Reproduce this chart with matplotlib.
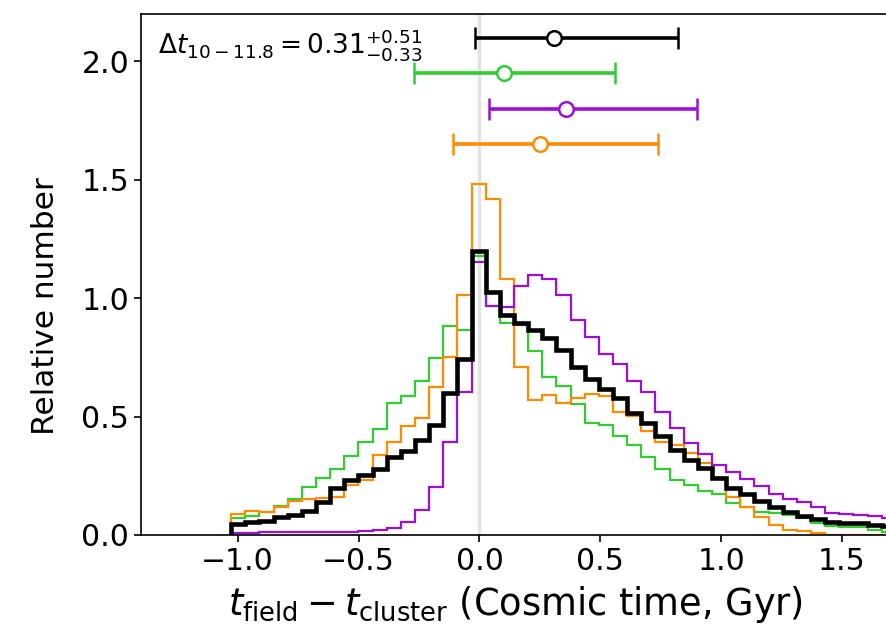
import numpy as np
import matplotlib
matplotlib.use("Agg")
import matplotlib.pyplot as plt

# ---- data ----
bin_start = -1.027
bin_width = 0.0585
n_bins = 47

green = [0.070, 0.080, 0.099, 0.123, 0.151, 0.204, 0.240, 0.278, 0.333, 0.391,
         0.446, 0.556, 0.587, 0.651, 0.747, 0.881, 0.866, 1.179, 0.968, 0.897,
         0.888, 0.775, 0.666, 0.630, 0.554, 0.472, 0.465, 0.420, 0.380, 0.328,
         0.278, 0.234, 0.211, 0.187, 0.173, 0.137, 0.117, 0.099, 0.092, 0.085,
         0.070, 0.052, 0.038, 0.032, 0.032, 0.021, 0.012]
orange = [0.087, 0.101, 0.097, 0.120, 0.144, 0.151, 0.158, 0.162, 0.211, 0.232,
          0.338, 0.391, 0.461, 0.496, 0.624, 0.751, 1.014, 1.483, 1.419, 1.081,
          0.710, 0.571, 0.592, 0.558, 0.577, 0.596, 0.586, 0.521, 0.503, 0.439,
          0.394, 0.382, 0.347, 0.303, 0.240, 0.162, 0.117, 0.075, 0.042, 0.021,
          0.018, 0.010, 0.0, 0.0, 0.0, 0.0, 0.0]
purple = [0.010, 0.010, 0.012, 0.012, 0.013, 0.013, 0.013, 0.012, 0.014, 0.018,
          0.021, 0.028, 0.054, 0.106, 0.202, 0.394, 0.604, 1.151, 0.965, 0.961,
          1.050, 1.097, 1.081, 1.012, 0.909, 0.835, 0.764, 0.723, 0.651, 0.602,
          0.521, 0.451, 0.387, 0.341, 0.296, 0.265, 0.235, 0.207, 0.173, 0.151,
          0.141, 0.120, 0.094, 0.089, 0.085, 0.080, 0.070]
black = [0.046, 0.056, 0.061, 0.075, 0.085, 0.103, 0.141, 0.197, 0.232, 0.254,
         0.279, 0.330, 0.356, 0.402, 0.465, 0.599, 0.745, 1.199, 1.024, 0.930,
         0.897, 0.866, 0.831, 0.782, 0.711, 0.658, 0.616, 0.578, 0.517, 0.472,
         0.416, 0.359, 0.317, 0.282, 0.240, 0.197, 0.172, 0.144, 0.117, 0.099,
         0.080, 0.066, 0.056, 0.052, 0.049, 0.042, 0.038]

# error bars: (median, minus, plus, y)
eb_black = (0.31, 0.33, 0.51, 2.10)
eb_green = (0.10, 0.37, 0.46, 1.95)
eb_purple = (0.36, 0.32, 0.54, 1.80)
eb_orange = (0.25, 0.36, 0.49, 1.65)

c_green = "#33cc33"
c_orange = "#ff8c00"
c_purple = "#9b0fd9"
c_black = "black"

edges = bin_start + bin_width * np.arange(n_bins + 1)

fig = plt.figure(figsize=(8.86, 6.29), dpi=100)
ax = fig.add_axes([141/886, 1 - 535/629, (890.4 - 141)/886, (535 - 14)/629])

ax.axvline(0.0, color="#e3e3e3", lw=2.5, zorder=0)

ax.stairs(green, edges, color=c_green, lw=1.6, baseline=0)
ax.stairs(orange, edges, color=c_orange, lw=1.6, baseline=0)
ax.stairs(purple, edges, color=c_purple, lw=1.6, baseline=0)
ax.stairs(black, edges, color=c_black, lw=3.3, baseline=0)

for (m, lo, hi, y), c in [(eb_black, c_black), (eb_green, c_green),
                          (eb_purple, c_purple), (eb_orange, c_orange)]:
    ax.errorbar([m], [y], xerr=[[lo], [hi]], fmt="o", color=c, mfc="white",
                mec=c, mew=1.8, ms=10.5, lw=2.6, capsize=8, capthick=2)

ax.text(-1.33, 2.07, r"$\Delta t_{10-11.8} = 0.31^{+0.51}_{-0.33}$",
        fontsize=19, va="center", ha="left")

ax.set_xlim(-1.4, 1.7)
ax.set_ylim(0, 2.2)
ax.set_xticks([-1.0, -0.5, 0.0, 0.5, 1.0, 1.5])
ax.set_yticks([0.0, 0.5, 1.0, 1.5, 2.0])
ax.tick_params(labelsize=21.5, length=5, width=1.2)
ax.set_xlabel(r"$t_{\rm field} - t_{\rm cluster}$ (Cosmic time, Gyr)", fontsize=26.5,
              labelpad=6)
ax.set_ylabel("Relative number", fontsize=22.5)
ax.yaxis.set_label_coords(-0.108, 0.44)
for s in ax.spines.values():
    s.set_linewidth(1.2)

fig.savefig("out.png", dpi=100)
